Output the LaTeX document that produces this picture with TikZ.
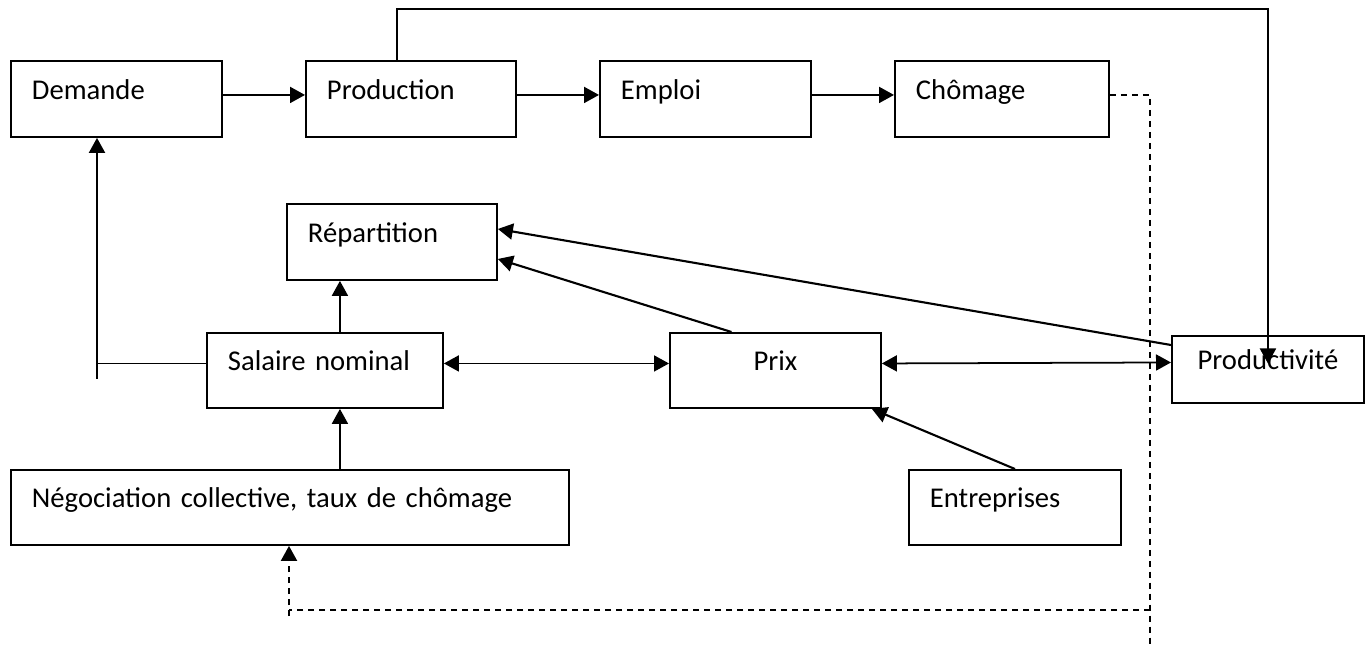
\documentclass[tikz,border=0pt]{standalone}
\usepackage{fontspec}
\setmainfont{Carlito}[WordSpace=0.8]
\usetikzlibrary{arrows.meta}

\tikzset{
boite/.style = {draw, line width=1.1pt, anchor=north west, minimum height=1.52cm, inner xsep=0.42cm, align=left, text height=0.4cm, text depth=0.38cm},
fleche/.style = {line width=1.2pt, -{Triangle[length=0.3cm,width=0.32cm]}},
fleche2/.style = {line width=1pt, {Triangle[length=0.3cm,width=0.32cm]}-{Triangle[length=0.3cm,width=0.32cm]}},
tirets/.style = {line width=1.1pt, dash pattern=on 0.12cm off 0.1cm}
}

\begin{document}
\begin{tikzpicture}[x=0.02cm, y=-0.02cm, font=\fontsize{16.3}{20}\selectfont]
\useasboundingbox (0,0) rectangle (1370,645);

% ligne du haut
\node[boite, text width=3.38cm] (demande) at (10,60) {Demande};
\node[boite, text width=3.36cm] (production) at (305,60) {Production};
\node[boite, text width=3.38cm] (emploi) at (599,60) {Emploi};
\node[boite, text width=3.44cm] (chomage) at (894,60) {Chômage};
% milieu
\node[boite, text width=3.36cm] (repartition) at (286,203) {Répartition};
\node[boite, text width=3.88cm, minimum height=1.5cm] (salaire) at (206,332) {Salaire nominal};
\node[boite, text width=3.38cm, align=center, minimum height=1.5cm] (prix) at (669,332) {Prix};
\node[boite, minimum width=3.84cm, minimum height=1.34cm, inner xsep=0.3cm, align=center] (productivite) at (1171,335) {Productivité};
% bas
\node[boite, text width=10.32cm, minimum height=1.5cm] (negociation) at (10,469) {Négociation collective, taux de chômage};
\node[boite, text width=3.40cm, minimum height=1.5cm] (entreprises) at (908,469) {Entreprises};

\draw[fleche] ([yshift=0.08cm]demande.east) -- ([yshift=0.08cm]production.west);
\draw[fleche] ([yshift=0.08cm]production.east) -- ([yshift=0.08cm]emploi.west);
\draw[fleche] ([yshift=0.08cm]emploi.east) -- ([yshift=0.08cm]chomage.west);

% boucle production -> productivite
\coordinate (haut) at (397,9);
\draw[fleche] (production.north -| haut) -- (haut) -| ([yshift=0.12cm]productivite.center);

% salaire -> demande
\coordinate (coin) at (97,379);
\coordinate (s) at ([yshift=0.14cm]salaire.west);
\draw[fleche] (coin) -- (coin |- demande.south);
\draw[line width=0.8pt] (s) -- (s -| coin);

% salaire -> repartition, negociation -> salaire
\coordinate (a) at ([xshift=0.3cm]salaire.north);
\draw[fleche] (a) -- (a |- repartition.south);
\coordinate (b) at ([xshift=0.3cm]salaire.south);
\draw[fleche] (b |- negociation.north) -- (b);

% vers la repartition
\draw[fleche] ([xshift=-0.88cm]prix.north) -- ([yshift=-0.34cm]repartition.east);
\draw[fleche] ([yshift=-0.2cm]productivite.north west) -- ([yshift=0.26cm]repartition.east);
\draw[fleche] (entreprises.north) -- ([xshift=-0.2cm]prix.south east);

% doubles fleches
\draw[fleche2] ([yshift=0.14cm]salaire.east) -- ([yshift=0.14cm]prix.west);
\draw[fleche2] ([yshift=0.14cm]prix.east) -- ([yshift=0.14cm]productivite.west);

% chomage (pointilles)
\coordinate (pied) at (1150,645);
\draw[tirets] ([yshift=0.08cm]chomage.east) -| (pied);
\coordinate (retour) at (289,610);
\draw[tirets] (retour -| pied) -- (retour);
\coordinate (bout) at (289,616);
\draw[tirets, fleche] (bout) -- (negociation.south -| bout);
\end{tikzpicture}
\end{document}
